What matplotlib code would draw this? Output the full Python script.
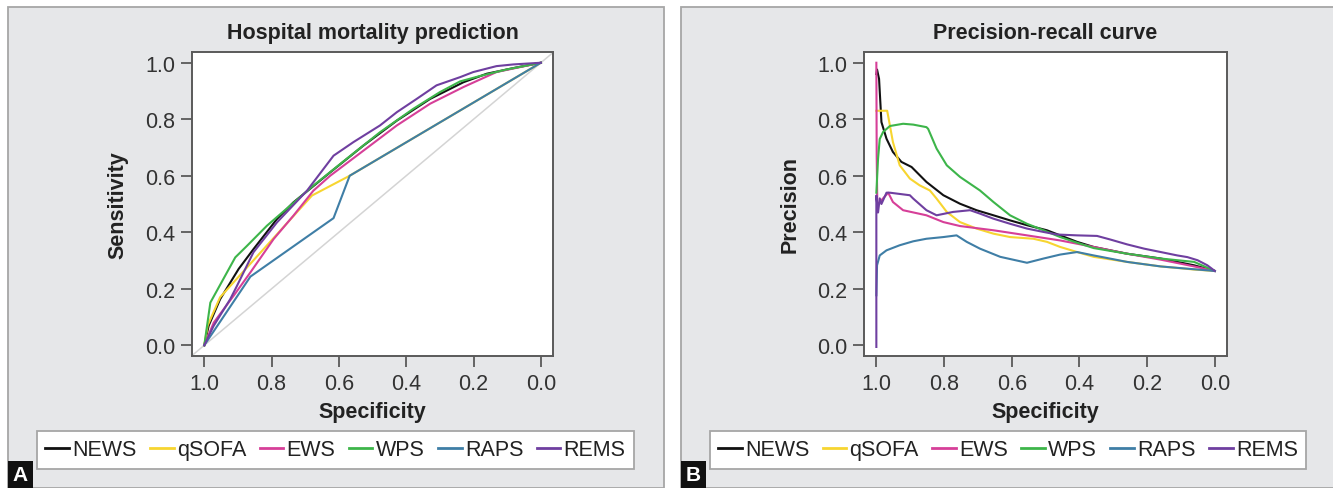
import matplotlib
matplotlib.use("Agg")
import matplotlib.pyplot as plt
from matplotlib.patches import Rectangle
from matplotlib.lines import Line2D

plt.rcParams['font.family'] = ['Liberation Sans', 'DejaVu Sans']

names = ["NEWS", "qSOFA", "EWS", "WPS", "RAPS", "REMS"]
colors = ["#111111", "#f7d530", "#d63f98", "#3db54a", "#3f7ea6", "#6f3fa0"]

# ROC curves (specificity, sensitivity)
news_spec = [1.0, 0.987, 0.953, 0.898, 0.854, 0.784, 0.735, 0.705, 0.626, 0.527, 0.428, 0.329, 0.230, 0.161, 0.082, 0.0]
news_sens = [0.0, 0.069, 0.163, 0.270, 0.340, 0.447, 0.506, 0.535, 0.612, 0.707, 0.795, 0.872, 0.931, 0.961, 0.981, 1.0]
qsofa_spec = [1.0, 0.99, 0.953, 0.68, 0.568, 0.0]
qsofa_sens = [0.0, 0.07, 0.17, 0.53, 0.60, 1.0]
ews_spec = [1.0, 0.972, 0.913, 0.863, 0.794, 0.735, 0.676, 0.626, 0.527, 0.428, 0.329, 0.230, 0.132, 0.0]
ews_sens = [0.0, 0.080, 0.175, 0.258, 0.376, 0.459, 0.547, 0.600, 0.689, 0.778, 0.855, 0.914, 0.967, 1.0]
wps_spec = [1.0, 0.982, 0.908, 0.873, 0.814, 0.745, 0.676, 0.577, 0.478, 0.379, 0.300, 0.240, 0.181, 0.102, 0.0]
wps_sens = [0.0, 0.151, 0.311, 0.352, 0.423, 0.494, 0.565, 0.660, 0.754, 0.837, 0.896, 0.934, 0.953, 0.976, 1.0]
raps_spec = [1.0, 0.863, 0.616, 0.568, 0.0]
raps_sens = [0.0, 0.243, 0.450, 0.600, 1.0]
rems_spec = [1.0, 0.972, 0.923, 0.903, 0.854, 0.784, 0.695, 0.616, 0.557, 0.478, 0.428, 0.369, 0.310, 0.240, 0.201, 0.132, 0.082, 0.0]
rems_sens = [0.0, 0.069, 0.163, 0.210, 0.329, 0.435, 0.547, 0.671, 0.719, 0.778, 0.825, 0.872, 0.920, 0.949, 0.967, 0.988, 0.994, 1.0]

# precision-recall curves (specificity axis, precision)
pr_news_x = [1.0, 0.998, 0.992, 0.985, 0.970, 0.951, 0.926, 0.896, 0.852, 0.802, 0.753, 0.704, 0.654, 0.605, 0.555, 0.496, 0.457, 0.407, 0.358, 0.259, 0.160, 0.111, 0.061, 0.0]
pr_news_y = [0.96, 0.976, 0.943, 0.790, 0.731, 0.684, 0.649, 0.631, 0.578, 0.531, 0.501, 0.478, 0.460, 0.442, 0.425, 0.407, 0.389, 0.366, 0.348, 0.324, 0.307, 0.295, 0.283, 0.263]
pr_qsofa_x = [1.0, 0.998, 0.968, 0.960, 0.951, 0.931, 0.901, 0.872, 0.842, 0.822, 0.792, 0.753, 0.704, 0.654, 0.605, 0.536, 0.496, 0.457, 0.407, 0.358, 0.259, 0.160, 0.061, 0.0]
pr_qsofa_y = [0.83, 0.830, 0.830, 0.778, 0.719, 0.637, 0.590, 0.566, 0.548, 0.519, 0.472, 0.436, 0.413, 0.395, 0.383, 0.377, 0.366, 0.348, 0.330, 0.313, 0.295, 0.279, 0.268, 0.263]
pr_ews_x = [1.0, 0.999, 0.997, 0.995, 0.965, 0.951, 0.921, 0.852, 0.802, 0.753, 0.654, 0.555, 0.457, 0.358, 0.259, 0.160, 0.061, 0.0]
pr_ews_y = [1.0, 0.67, 0.48, 0.50, 0.54, 0.507, 0.478, 0.460, 0.436, 0.422, 0.407, 0.389, 0.371, 0.348, 0.324, 0.303, 0.279, 0.263]
pr_wps_x = [1.0, 0.995, 0.990, 0.980, 0.960, 0.921, 0.891, 0.852, 0.847, 0.822, 0.792, 0.753, 0.694, 0.654, 0.605, 0.555, 0.506, 0.457, 0.407, 0.358, 0.259, 0.160, 0.061, 0.0]
pr_wps_y = [0.54, 0.66, 0.73, 0.755, 0.776, 0.784, 0.781, 0.772, 0.766, 0.696, 0.637, 0.596, 0.548, 0.507, 0.460, 0.430, 0.407, 0.383, 0.363, 0.344, 0.324, 0.307, 0.295, 0.263]
pr_raps_x = [1.0, 0.998, 0.990, 0.970, 0.931, 0.891, 0.852, 0.802, 0.763, 0.733, 0.694, 0.634, 0.555, 0.506, 0.457, 0.407, 0.358, 0.259, 0.160, 0.061, 0.0]
pr_raps_y = [0.177, 0.283, 0.318, 0.336, 0.354, 0.368, 0.377, 0.383, 0.389, 0.366, 0.342, 0.313, 0.292, 0.307, 0.321, 0.330, 0.318, 0.295, 0.279, 0.269, 0.263]
pr_rems_x = [1.0, 1.0, 0.995, 0.990, 0.985, 0.970, 0.960, 0.901, 0.891, 0.852, 0.822, 0.773, 0.723, 0.694, 0.654, 0.605, 0.555, 0.506, 0.466, 0.407, 0.348, 0.308, 0.259, 0.209, 0.160, 0.111, 0.081, 0.051, 0.022, 0.0]
pr_rems_y = [-0.006, 0.53, 0.47, 0.52, 0.50, 0.54, 0.54, 0.531, 0.519, 0.478, 0.460, 0.472, 0.478, 0.466, 0.448, 0.430, 0.413, 0.401, 0.392, 0.389, 0.387, 0.374, 0.357, 0.342, 0.330, 0.318, 0.312, 0.301, 0.283, 0.263]

roc = [(news_spec, news_sens), (qsofa_spec, qsofa_sens), (ews_spec, ews_sens),
       (wps_spec, wps_sens), (raps_spec, raps_sens), (rems_spec, rems_sens)]
pr = [(pr_news_x, pr_news_y), (pr_qsofa_x, pr_qsofa_y), (pr_ews_x, pr_ews_y),
      (pr_wps_x, pr_wps_y), (pr_raps_x, pr_raps_y), (pr_rems_x, pr_rems_y)]

W, H = 1333, 489
fig = plt.figure(figsize=(W / 100, H / 100), dpi=100)
fig.patch.set_facecolor("white")


def px_rect(x0, y0, x1, y1):
    # pixel box (top-left origin) -> figure fraction [left, bottom, width, height]
    return [x0 / W, 1 - y1 / H, (x1 - x0) / W, (y1 - y0) / H]


panel_bg = "#e6e7e9"
for x0, x1 in [(8, 664), (681, 1340)]:
    l, b, w, h = px_rect(x0, 8, x1, 489)
    fig.patches.append(Rectangle((l, b), w, h, transform=fig.transFigure,
                                 facecolor=panel_bg, edgecolor="#a6a6a6", lw=1.3, zorder=-5))

text_col = "#222222"
spine_col = "#5a5a5a"


def style_axes(ax, title, ylabel):
    ax.set_xlim(1.0365, -0.036)
    ax.set_ylim(-0.038, 1.038)
    ax.set_xticks([1.0, 0.8, 0.6, 0.4, 0.2, 0.0])
    ax.set_yticks([0.0, 0.2, 0.4, 0.6, 0.8, 1.0])
    ax.set_xticklabels(["1.0", "0.8", "0.6", "0.4", "0.2", "0.0"])
    ax.set_yticklabels(["0.0", "0.2", "0.4", "0.6", "0.8", "1.0"])
    ax.tick_params(length=8, width=1.3, color=spine_col, labelsize=15.5, labelcolor="#333333", pad=4)
    for s in ax.spines.values():
        s.set_color(spine_col)
        s.set_linewidth(1.4)
    ax.set_facecolor("white")
    ax.set_title(title, fontsize=15.5, fontweight="bold", color=text_col, pad=10)
    ax.set_xlabel("Specificity", fontsize=15.5, fontweight="bold", color=text_col, labelpad=5)
    ax.set_ylabel(ylabel, fontsize=15.5, fontweight="bold", color=text_col, labelpad=12)


axA = fig.add_axes(px_rect(192, 53, 553, 357))
axA.axline((1, 0), (0, 1), color="#d4d4d4", lw=1.1, zorder=1)
for (xs, ys), c in zip(roc, colors):
    axA.plot(xs, ys, color=c, lw=1.5, zorder=2)
style_axes(axA, "Hospital mortality prediction", "Sensitivity")

axB = fig.add_axes(px_rect(864, 53, 1227, 357))
for (xs, ys), c in zip(pr, colors):
    axB.plot(xs, ys, color=c, lw=1.5, zorder=2)
style_axes(axB, "Precision-recall curve", "Precision")

handles = [Line2D([], [], color=c, lw=2) for c in colors]
for cx in [335.5, 1008]:
    leg = fig.legend(handles, names, loc="center", bbox_to_anchor=(cx / W, 1 - 451 / H),
                     ncol=6, fontsize=15.5, frameon=True, fancybox=False, framealpha=1,
                     handlelength=1.1, handletextpad=0.15, columnspacing=0.62,
                     borderpad=0.38, borderaxespad=0)
    leg.get_frame().set_edgecolor("#a6a6a6")
    leg.get_frame().set_linewidth(1.3)
    for t in leg.get_texts():
        t.set_color(text_col)

for x0, lab in [(8, "A"), (681, "B")]:
    l, b, w, h = px_rect(x0, 462, x0 + 25, 489)
    fig.patches.append(Rectangle((l, b), w, h, transform=fig.transFigure,
                                 facecolor="#111111", edgecolor="none", zorder=3))
    fig.text(l + w / 2, b + h / 2, lab, color="white", fontsize=15, fontweight="bold",
             ha="center", va="center", zorder=4)

fig.savefig("out.png", dpi=100)
